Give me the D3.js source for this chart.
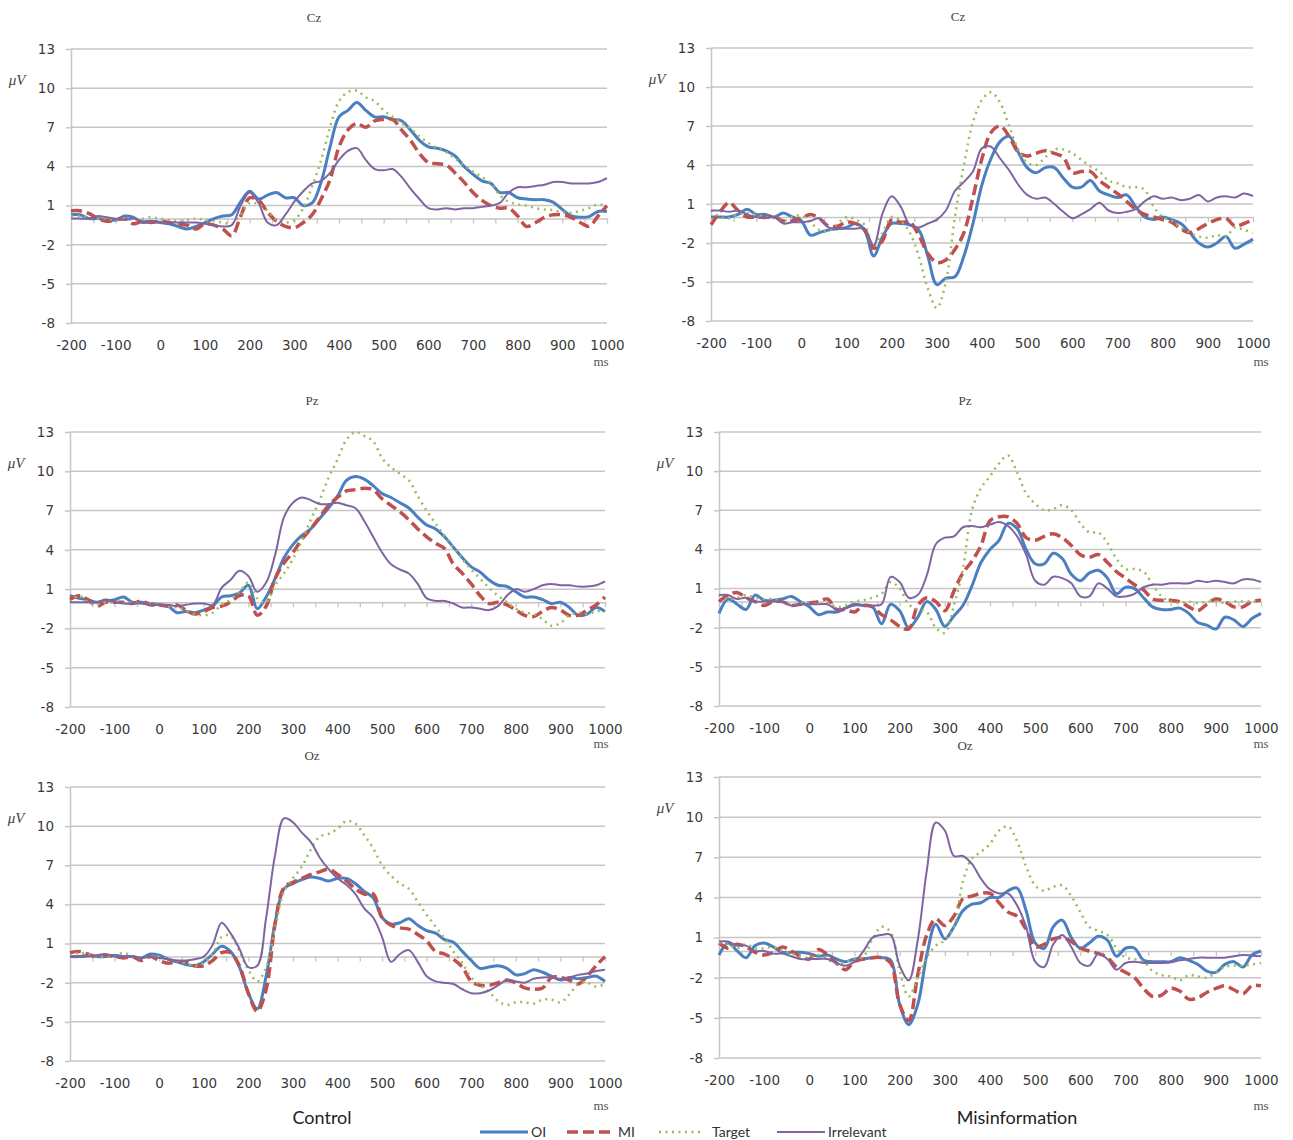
<!DOCTYPE html>
<html>
<head>
<meta charset="utf-8">
<script src="https://cdn.jsdelivr.net/npm/d3@7"></script>
<style>
  body { margin: 0; background: #fff; }
  svg { display: block; }
</style>
</head>
<body>
<svg id="chart" width="1293" height="1140"></svg>
<script>
// time points (ms), one value every 20 ms
const times = [-200, -180, -160, -140, -120, -100, -80, -60, -40, -20,
    0, 20, 40, 60, 80, 100, 120, 140, 160, 180,
    200, 220, 240, 260, 280, 300, 320, 340, 360, 380,
    400, 420, 440, 460, 480, 500, 520, 540, 560, 580,
    600, 620, 640, 660, 680, 700, 720, 740, 760, 780,
    800, 820, 840, 860, 880, 900, 920, 940, 960, 980,
    1000]

const xTickLabels = [-200, -100, 0, 100, 200, 300, 400, 500, 600, 700, 800, 900, 1000]
const yTickLabels = [13, 10, 7, 4, 1, -2, -5, -8]
const seriesNames = ['OI', 'MI', 'Target', 'Irrelevant']

// Control - Cz
const czCtrlOI = [0.3, 0.3, 0.0, 0.0, -0.1, -0.1, 0.2, 0.1, -0.3, -0.2,
    -0.3, -0.4, -0.6, -0.8, -0.6, -0.3, 0.0, 0.2, 0.3, 1.3,
    2.1, 1.5, 1.8, 2.0, 1.6, 1.6, 1.0, 1.2, 2.8, 5.5,
    7.8, 8.3, 8.9, 8.3, 7.8, 7.8, 7.6, 7.5, 6.8, 6.0,
    5.5, 5.4, 5.2, 4.8, 4.0, 3.4, 2.9, 2.7, 2.0, 2.0,
    1.6, 1.5, 1.45, 1.45, 1.25, 0.7, 0.2, 0.1, 0.15, 0.55,
    0.55]
const czCtrlMI = [0.6, 0.6, 0.4, 0.0, -0.2, -0.1, 0.0, -0.4, -0.2, -0.3,
    -0.2, -0.3, -0.4, -0.5, -0.8, -0.4, -0.5, -0.8, -1.3, 0.2,
    1.6, 1.4, 0.5, -0.2, -0.6, -0.7, -0.3, 0.3, 1.5, 3.0,
    5.5, 6.8, 7.3, 7.0, 7.5, 7.6, 7.6, 6.8, 6.0, 5.0,
    4.3, 4.2, 4.1, 3.5, 2.8, 2.0, 1.4, 1.0, 0.8, 0.8,
    0.2, -0.6, -0.3, 0.1, 0.3, 0.3, 0.1, -0.3, -0.6, 0.2,
    1.0]
const czCtrlTarget = [0.2, 0.2, 0.1, 0.0, 0.0, -0.1, 0.0, -0.1, 0.0, 0.1,
    0.0, -0.1, -0.2, -0.1, 0.0, -0.1, -0.2, -0.3, -0.4, 0.3,
    1.2, 1.1, 0.6, -0.1, -0.3, -0.1, 0.8, 2.5, 4.5, 7.0,
    9.0, 9.7, 9.8, 9.3, 9.0, 8.3, 7.8, 7.3, 6.9, 6.3,
    5.8, 5.4, 5.1, 4.6, 4.1, 3.6, 3.2, 2.7, 1.8, 1.3,
    1.1, 1.0, 0.8, 0.7, 0.65, 0.5, 0.45, 0.6, 0.8, 1.1,
    0.9]
const czCtrlIrr = [0.0, 0.0, 0.0, 0.2, 0.1, 0.0, -0.1, 0.0, -0.2, -0.2,
    -0.3, -0.3, -0.3, -0.3, -0.3, -0.4, -0.5, -0.6, -0.5, 1.0,
    2.0, 1.2, -0.3, -0.5, 0.3, 1.3, 2.1, 2.7, 2.9, 3.5,
    4.5, 5.2, 5.4, 4.5, 3.8, 3.7, 3.8, 3.2, 2.3, 1.5,
    0.8, 0.7, 0.8, 0.7, 0.8, 0.8, 0.9, 1.0, 1.2, 2.0,
    2.4, 2.4, 2.5, 2.6, 2.8, 2.8, 2.7, 2.7, 2.7, 2.8,
    3.1]

// Misinformation - Cz
const czMisOI = [0.0, 0.0, 0.0, 0.2, 0.6, 0.2, 0.2, 0.0, 0.3, 0.0,
    -0.3, -1.4, -1.2, -1.0, -0.9, -0.8, -0.5, -1.0, -3.0, -1.5,
    -0.5, -0.5, -0.6, -1.0, -3.0, -5.2, -4.7, -4.6, -3.0, -0.5,
    2.5, 4.5, 5.8, 6.2, 5.0, 3.8, 3.4, 3.8, 3.8, 3.0,
    2.3, 2.3, 2.8, 2.0, 1.7, 1.5, 1.7, 0.8, 0.0, -0.2,
    0.0, -0.2, -0.5, -1.2, -2.0, -2.3, -2.0, -1.5, -2.4, -2.1,
    -1.7]
const czMisMI = [-0.6, 0.4, 1.1, 0.5, 0.0, 0.0, 0.0, 0.0, -0.3, -0.3,
    -0.1, 0.2, -0.1, -0.7, -0.7, -0.4, -0.5, -1.0, -2.4, -1.8,
    -0.2, -0.4, -0.4, -1.4, -2.8, -3.5, -3.3, -2.5, -1.2, 1.5,
    4.5, 6.5, 7.0, 6.2, 5.0, 4.7, 4.9, 5.1, 4.9, 4.6,
    3.4, 3.5, 3.5, 2.8, 2.3, 1.8, 1.2, 0.6, 0.2, 0.0,
    -0.2, -0.4, -0.9, -1.2, -0.9, -0.5, -0.2, -0.1, -0.7, -0.5,
    -0.2]
const czMisTarget = [0.5, 0.0, -0.1, 0.2, 0.3, 0.2, 0.0, -0.1, -0.3, 0.0,
    0.1, -0.4, -1.0, -1.1, -0.5, 0.0, -0.2, -0.6, -2.2, -1.2,
    0.0, -0.3, -1.2, -3.0, -5.5, -7.0, -5.0, 0.0, 4.0, 7.3,
    9.0, 9.6, 8.8, 7.0, 5.2, 4.2, 4.0, 4.6, 5.2, 5.2,
    4.9, 4.4, 3.9, 3.5, 2.8, 2.6, 2.3, 2.3, 2.1, 0.8,
    0.0, -0.3, -0.8, -1.2, -1.5, -1.6, -1.4, -1.5, -0.8, -1.0,
    -1.2]
const czMisIrr = [0.5, 0.5, 0.4, 0.5, 0.2, 0.0, -0.1, 0.0, -0.5, -0.4,
    -0.4, -0.3, -0.1, -0.8, -0.9, -0.9, -0.9, -0.9, -2.2, 0.3,
    1.6, 0.8, -0.6, -0.8, -0.5, -0.2, 0.5, 2.0, 2.7, 3.5,
    5.3, 5.4, 4.5, 3.6, 2.5, 1.7, 1.4, 1.5, 1.0, 0.4,
    -0.1, 0.2, 0.6, 1.1, 0.5, 0.3, 0.4, 0.6, 1.2, 1.6,
    1.4, 1.5, 1.3, 1.4, 1.7, 1.2, 1.5, 1.6, 1.5, 1.8,
    1.6]

// Control - Pz
const pzCtrlOI = [0.5, 0.3, 0.2, 0.0, 0.1, 0.2, 0.4, 0.0, 0.0, -0.1,
    -0.2, -0.3, -0.8, -0.7, -0.8, -0.6, -0.3, 0.4, 0.5, 0.7,
    1.3, -0.5, 0.4, 1.8, 3.4, 4.4, 5.1, 5.6, 6.4, 7.2,
    8.1, 9.3, 9.6, 9.4, 8.9, 8.3, 8.0, 7.6, 7.2, 6.5,
    5.9, 5.6, 5.0, 4.2, 3.4, 2.7, 2.3, 1.7, 1.3, 1.2,
    0.8, 0.4, 0.4, 0.2, -0.1, 0.0, -0.4, -1.0, -0.9, -0.4,
    -0.7]
const pzCtrlMI = [0.2, 0.5, 0.2, -0.3, 0.0, 0.0, 0.0, -0.1, 0.1, -0.2,
    -0.2, -0.3, -0.2, -0.6, -0.9, -0.7, -0.4, -0.3, 0.0, 0.5,
    0.5, -1.0, -0.3, 1.8, 3.0, 3.8, 4.8, 5.6, 6.5, 7.4,
    8.0, 8.5, 8.6, 8.7, 8.6, 7.9, 7.4, 6.9, 6.3, 5.6,
    5.0, 4.5, 4.1, 2.9, 2.2, 1.4, 0.5, -0.1, 0.0, -0.2,
    -0.6, -1.0, -1.1, -0.7, -0.4, -0.6, -1.0, -1.0, -0.6, -0.2,
    0.4]
const pzCtrlTarget = [0.0, 0.5, 0.0, -0.2, 0.0, 0.0, 0.0, 0.0, -0.1, -0.1,
    -0.1, -0.3, -0.4, -0.6, -0.9, -1.0, -0.8, -0.2, 0.2, 0.8,
    1.5, 0.3, 0.0, 1.3, 2.2, 3.3, 4.7, 6.3, 7.8, 9.5,
    10.9, 12.4, 13.0, 12.7, 12.3, 11.0, 10.3, 9.8, 9.3, 8.1,
    7.0, 6.0, 5.1, 4.2, 3.3, 2.5, 1.8, 1.1, 0.5, 0.0,
    -0.5, -0.8, -0.9, -1.3, -1.8, -1.6, -1.0, -0.8, -0.9, -0.7,
    -0.6]
const pzCtrlIrr = [0.0, 0.0, 0.0, 0.0, 0.2, 0.0, -0.1, -0.1, -0.1, -0.2,
    -0.2, -0.2, -0.3, -0.2, -0.1, -0.1, -0.2, 1.1, 1.7, 2.4,
    2.0, 0.8, 1.5, 3.6, 6.5, 7.6, 8.0, 7.8, 7.5, 7.5,
    7.6, 7.4, 7.2, 6.2, 5.0, 3.8, 2.9, 2.5, 2.2, 1.4,
    0.3, 0.1, 0.1, -0.1, -0.4, -0.4, -0.5, -0.6, -0.3, 0.5,
    1.0, 0.8, 1.0, 1.3, 1.4, 1.3, 1.3, 1.2, 1.2, 1.3,
    1.6]

// Misinformation - Pz
const pzMisOI = [-0.9, 0.2, -0.2, -0.6, 0.5, 0.1, 0.1, 0.2, 0.4, 0.0,
    -0.4, -1.0, -0.8, -0.8, -0.5, -0.2, -0.3, -0.4, -1.7, -0.2,
    -0.7, -2.0, -1.2, 0.0, -0.6, -1.9, -1.1, -0.3, 1.2, 3.0,
    4.0, 4.7, 6.0, 5.6, 4.0, 2.9, 2.9, 3.7, 3.3, 2.1,
    1.6, 2.2, 2.4, 1.8, 0.6, 1.1, 1.0, 0.3, -0.4, -0.6,
    -0.6, -0.5, -0.9, -1.6, -1.8, -2.1, -1.2, -1.4, -1.9, -1.3,
    -0.9]
const pzMisMI = [0.0, 0.5, 0.7, 0.3, 0.0, -0.3, 0.0, 0.0, -0.3, -0.2,
    -0.1, 0.0, 0.2, -0.6, -0.6, -0.8, -0.3, -0.4, -1.0, -1.4,
    -1.9, -2.1, -0.3, 0.3, 0.0, -0.7, 0.8, 2.2, 3.1, 4.3,
    6.2, 6.5, 6.5, 6.0, 4.9, 4.7, 5.0, 5.2, 4.9, 4.3,
    3.6, 3.4, 3.6, 3.0, 2.3, 1.8, 1.3, 0.9, 0.2, 0.1,
    0.1, 0.0, -0.4, -0.7, -0.2, 0.2, 0.0, -0.4, -0.4, 0.0,
    0.1]
const pzMisTarget = [0.5, 0.2, 0.3, 0.5, 0.3, 0.2, 0.2, 0.0, -0.2, -0.1,
    -0.1, -0.2, -0.1, -0.4, -0.3, 0.0, 0.1, 0.3, 0.6, 1.5,
    1.0, -0.2, -0.6, -0.8, -2.0, -2.4, -0.3, 2.5, 7.0, 8.7,
    9.6, 10.6, 11.2, 9.9, 8.3, 7.5, 7.0, 7.1, 7.4, 7.0,
    6.0, 5.3, 5.3, 4.5, 3.3, 2.5, 2.5, 2.3, 1.3, 0.4,
    0.0, -0.1, 0.0, -0.1, 0.0, 0.0, -0.1, 0.0, 0.0, 0.0,
    0.0]
const pzMisIrr = [0.5, 0.5, 0.2, 0.3, 0.0, 0.0, 0.0, 0.0, -0.3, -0.2,
    -0.2, -0.2, -0.2, -0.6, -0.5, -0.3, -0.3, -0.3, -0.2, 1.9,
    1.5, 0.3, 0.5, 2.0, 4.4, 4.9, 5.0, 5.7, 5.8, 5.7,
    5.9, 6.1, 5.8, 5.0, 3.6, 1.6, 1.3, 1.9, 1.8, 1.4,
    0.4, 0.4, 1.4, 1.0, 0.4, 0.4, 0.6, 1.1, 1.3, 1.3,
    1.4, 1.4, 1.4, 1.6, 1.5, 1.6, 1.5, 1.4, 1.7, 1.7,
    1.5]

// Control - Oz
const ozCtrlOI = [0.0, 0.0, 0.1, 0.0, 0.0, 0.1, 0.0, 0.0, -0.1, 0.2,
    0.1, -0.2, -0.4, -0.6, -0.7, -0.4, 0.2, 0.8, 0.4, -0.8,
    -2.8, -4.0, -1.5, 2.6, 5.2, 5.6, 5.9, 6.1, 6.0, 5.8,
    6.0, 6.0, 5.6, 5.0, 4.5, 3.0, 2.5, 2.6, 2.9, 2.4,
    2.0, 1.8, 1.3, 1.1, 0.4, -0.3, -0.9, -0.8, -0.7, -0.9,
    -1.4, -1.3, -1.0, -1.2, -1.5, -1.8, -1.6, -1.7, -1.6, -1.5,
    -1.9]
const ozCtrlMI = [0.3, 0.4, 0.2, 0.0, 0.1, 0.0, -0.1, 0.0, -0.3, 0.0,
    -0.3, -0.5, -0.4, -0.4, -0.7, -0.7, -0.3, 0.3, 0.3, -0.7,
    -2.8, -4.2, -2.5, 2.5, 5.3, 5.7, 6.0, 6.3, 6.5, 6.7,
    6.3, 5.8, 5.2, 4.8, 4.8, 3.0, 2.4, 2.2, 2.1, 1.7,
    1.2, 0.4, 0.2, -0.2, -0.8, -1.9, -2.2, -2.2, -2.0, -1.8,
    -2.0, -2.4, -2.5, -2.4, -1.6, -1.6, -1.8, -2.1, -1.5, -0.7,
    0.0]
const ozCtrlTarget = [0.0, 0.3, 0.2, 0.0, 0.0, 0.0, 0.3, 0.0, -0.1, 0.0,
    0.0, -0.2, -0.3, -0.5, -0.7, -0.5, 0.2, 1.5, 1.6, 0.4,
    -1.0, -1.9, -0.8, 2.2, 5.0, 6.0, 6.9, 8.2, 9.2, 9.4,
    9.8, 10.4, 10.2, 9.3, 8.3, 7.0, 6.2, 5.6, 5.2, 4.2,
    3.2, 2.3, 1.4, 0.4, -0.5, -1.6, -2.2, -2.7, -3.4, -3.7,
    -3.5, -3.5, -3.6, -3.3, -3.3, -3.5, -2.9, -2.1, -2.0, -2.3,
    -2.1]
const ozCtrlIrr = [0.0, 0.0, 0.0, 0.1, 0.2, 0.0, 0.0, 0.0, -0.1, 0.0,
    -0.1, -0.2, -0.3, -0.3, -0.2, 0.0, 0.9, 2.6, 1.8, 0.6,
    -0.8, -0.7, 3.0, 7.8, 10.6, 10.3, 9.5, 8.8, 7.6, 6.7,
    6.0, 5.5, 4.8, 3.7, 3.0, 1.5, -0.4, 0.2, 0.5, -0.4,
    -1.5, -1.9, -2.0, -2.1, -2.5, -2.8, -2.8, -2.6, -2.2, -1.8,
    -1.9, -2.0, -1.7, -1.6, -1.6, -1.7, -1.6, -1.4, -1.3, -1.1,
    -1.0]

// Misinformation - Oz
const ozMisOI = [-0.3, 0.6, 0.0, -0.5, 0.4, 0.6, 0.3, -0.1, -0.1, -0.1,
    -0.2, -0.4, -0.3, -0.6, -0.8, -0.6, -0.6, -0.5, -0.5, -0.7,
    -4.0, -5.5, -4.0, -0.3, 2.0, 0.9, 1.8, 3.0, 3.5, 3.6,
    4.0, 4.0, 4.5, 4.7, 3.0, 0.6, 0.2, 1.8, 2.3, 1.0,
    0.2, 0.6, 1.1, 0.8, -0.4, 0.2, 0.2, -0.7, -0.8, -0.8,
    -0.8, -0.5, -0.7, -1.0, -1.5, -1.6, -1.0, -0.8, -1.2, -0.3,
    0.0]
const ozMisMI = [0.6, 0.2, 0.5, 0.3, -0.1, -0.3, -0.1, 0.3, 0.0, -0.4,
    -0.6, 0.1, -0.3, -0.9, -1.4, -0.8, -0.6, -0.5, -0.5, -0.9,
    -4.0, -5.2, -1.8, 1.2, 2.4, 1.9, 2.6, 3.9, 4.1, 4.3,
    4.3, 3.6, 2.9, 2.6, 1.6, 0.3, 0.5, 0.9, 1.0, 0.7,
    0.2, 0.0, -0.2, -0.5, -1.2, -1.6, -2.0, -2.8, -3.4, -3.3,
    -2.8, -3.0, -3.6, -3.5, -3.1, -2.8, -2.6, -2.9, -3.2, -2.6,
    -2.6]
const ozMisTarget = [0.6, 0.5, 0.2, 0.5, 0.2, 0.2, 0.3, 0.0, -0.2, -0.4,
    -0.5, -0.3, -0.6, -1.0, -0.8, -0.6, -0.4, 0.9, 1.8, 1.4,
    -1.5, -3.4, -2.0, -0.5, 0.4, 0.8, 1.8, 5.2, 6.9, 7.4,
    8.0, 9.0, 9.3, 8.2, 6.3, 4.9, 4.5, 4.8, 4.9, 4.1,
    2.9, 1.8, 1.5, 1.2, 0.2, -0.5, -0.6, -0.8, -1.5, -1.8,
    -1.9, -2.2, -1.8, -1.9, -2.0, -1.6, -1.2, -1.1, -1.1, -1.0,
    -0.9]
const ozMisIrr = [0.7, 0.7, 0.4, 0.4, 0.0, 0.0, -0.2, -0.2, -0.4, -0.6,
    -0.6, -0.6, -0.6, -0.9, -1.1, -0.8, 0.0, 1.0, 1.2, 1.2,
    -1.1, -2.2, 0.8, 6.0, 9.6, 9.0, 7.1, 7.1, 6.5, 5.4,
    4.6, 4.3, 4.3, 3.4, 1.8, -0.8, -1.2, 0.5, 1.2, 0.3,
    -0.9, -1.1, -0.2, -0.6, -1.4, -0.9, -0.8, -0.9, -0.9, -0.9,
    -0.85, -0.7, -0.6, -0.5, -0.5, -0.5, -0.5, -0.4, -0.3, -0.35,
    -0.4]

// panel placement (pixels)
const panels = [
    { title: 'Cz', x0: 71, x1: 607, yTop: 49, yBot: 323, titleX: 314, msX: 601, msY: 366,
      series: [czCtrlOI, czCtrlMI, czCtrlTarget, czCtrlIrr] },
    { title: 'Cz', x0: 711, x1: 1253, yTop: 48, yBot: 321, titleX: 958, msX: 1261, msY: 366,
      series: [czMisOI, czMisMI, czMisTarget, czMisIrr] },
    { title: 'Pz', x0: 70, x1: 605, yTop: 432, yBot: 707, titleX: 312, msX: 601, msY: 748,
      series: [pzCtrlOI, pzCtrlMI, pzCtrlTarget, pzCtrlIrr] },
    { title: 'Pz', x0: 719, x1: 1261, yTop: 432, yBot: 706, titleX: 965, msX: 1261, msY: 748,
      series: [pzMisOI, pzMisMI, pzMisTarget, pzMisIrr] },
    { title: 'Oz', x0: 70, x1: 605, yTop: 787, yBot: 1061, titleX: 312, msX: 601, msY: 1110,
      series: [ozCtrlOI, ozCtrlMI, ozCtrlTarget, ozCtrlIrr] },
    { title: 'Oz', x0: 719, x1: 1261, yTop: 777, yBot: 1058, titleX: 965, msX: 1261, msY: 1110,
      series: [ozMisOI, ozMisMI, ozMisTarget, ozMisIrr] }
]

const styles = [
    { color: '#4a7fc1', width: 3, dash: null },
    { color: '#c0504d', width: 3.5, dash: '11,5' },
    { color: '#9bbb59', width: 2.5, dash: '2,4.5' },
    { color: '#8064a2', width: 2, dash: null }
]

const gridColor = '#c6c6c6'
const tickFont = 'DejaVu Sans'
const plain = d => String(d)

const svg = d3.select('#chart')

panels.forEach(function (p) {
    const x = d3.scaleLinear().domain([-200, 1000]).range([p.x0, p.x1])
    const y = d3.scaleLinear().domain([-8, 13]).range([p.yBot, p.yTop])
    const g = svg.append('g')

    // horizontal gridlines
    g.selectAll('line.grid')
        .data(yTickLabels)
        .enter()
        .append('line')
        .attr('class', 'grid')
        .attr('x1', p.x0)
        .attr('x2', p.x1)
        .attr('y1', d => y(d))
        .attr('y2', d => y(d))
        .attr('stroke', gridColor)
        .attr('stroke-width', 1.5)

    // vertical axis
    const yAxis = g.append('g')
        .attr('transform', `translate(${p.x0},0)`)
        .call(d3.axisLeft(y).tickValues(yTickLabels).tickFormat(plain)
            .tickSize(5).tickSizeOuter(0).tickPadding(11))
    yAxis.select('.domain').attr('stroke', gridColor).attr('stroke-width', 1.5)
    yAxis.selectAll('.tick line').attr('stroke', gridColor).attr('stroke-width', 1.5)
    yAxis.selectAll('.tick text')
        .attr('font-family', tickFont)
        .attr('font-size', 13.5)
        .attr('fill', '#3a3a3a')

    // zero line with small ticks
    const zeroAxis = g.append('g')
        .attr('transform', `translate(0,${y(0)})`)
        .call(d3.axisBottom(x).tickValues(d3.range(-150, 1001, 50)).tickSize(5).tickSizeOuter(0).tickFormat(''))
    zeroAxis.select('.domain').attr('stroke', gridColor).attr('stroke-width', 1.5)
    zeroAxis.selectAll('.tick line').attr('stroke', gridColor).attr('stroke-width', 1.3)

    // time labels under the plot
    const xAxis = g.append('g')
        .attr('transform', `translate(0,${p.yBot})`)
        .call(d3.axisBottom(x).tickValues(xTickLabels).tickFormat(plain).tickSize(0).tickPadding(17))
    xAxis.select('.domain').remove()
    xAxis.selectAll('.tick text')
        .attr('font-family', tickFont)
        .attr('font-size', 13.5)
        .attr('fill', '#3a3a3a')

    // waveforms
    const line = d3.line()
        .x((d, i) => x(times[i]))
        .y(d => y(d))
        .curve(d3.curveCatmullRom.alpha(0.5))

    p.series.forEach(function (values, k) {
        const s = styles[k]
        g.append('path')
            .datum(values)
            .attr('d', line)
            .attr('fill', 'none')
            .attr('stroke', s.color)
            .attr('stroke-width', s.width)
            .attr('stroke-dasharray', s.dash)
            .attr('stroke-linejoin', 'round')
    })

    // panel texts
    g.append('text')
        .text(p.title)
        .attr('x', p.titleX)
        .attr('y', p.yTop - 27)
        .attr('text-anchor', 'middle')
        .attr('font-family', 'Liberation Serif')
        .attr('font-size', 13)
        .attr('fill', '#444')

    g.append('text')
        .text('\u03bcV')
        .attr('x', p.x0 - 54)
        .attr('y', p.yTop + 36)
        .attr('text-anchor', 'middle')
        .attr('font-family', 'Liberation Serif')
        .attr('font-style', 'italic')
        .attr('font-size', 15)
        .attr('fill', '#444')

    g.append('text')
        .text('ms')
        .attr('x', p.msX)
        .attr('y', p.msY)
        .attr('text-anchor', 'middle')
        .attr('font-family', 'Liberation Serif')
        .attr('font-size', 13)
        .attr('fill', '#555')
})

// condition labels
svg.append('text')
    .text('Control')
    .attr('x', 322)
    .attr('y', 1124)
    .attr('text-anchor', 'middle')
    .attr('font-family', 'Lato')
    .attr('font-size', 18)
    .attr('fill', '#222')

svg.append('text')
    .text('Misinformation')
    .attr('x', 1017)
    .attr('y', 1124)
    .attr('text-anchor', 'middle')
    .attr('font-family', 'Lato')
    .attr('font-size', 18)
    .attr('fill', '#222')

// legend
const legendX = [480, 567, 659, 777]
const legend = svg.append('g')
    .selectAll('g')
    .data(seriesNames)
    .enter()
    .append('g')
    .attr('transform', (d, i) => `translate(${legendX[i]},1132)`)

legend.append('line')
    .attr('x1', 0)
    .attr('x2', (d, i) => i === 2 ? 44 : 48)
    .attr('y1', 0)
    .attr('y2', 0)
    .attr('stroke', (d, i) => styles[i].color)
    .attr('stroke-width', (d, i) => styles[i].width)
    .attr('stroke-dasharray', (d, i) => styles[i].dash)

legend.append('text')
    .text(d => d)
    .attr('x', (d, i) => i === 2 ? 53 : 51)
    .attr('y', 5)
    .attr('font-family', 'Lato')
    .attr('font-size', 14)
    .attr('fill', '#333')
</script>
</body>
</html>
